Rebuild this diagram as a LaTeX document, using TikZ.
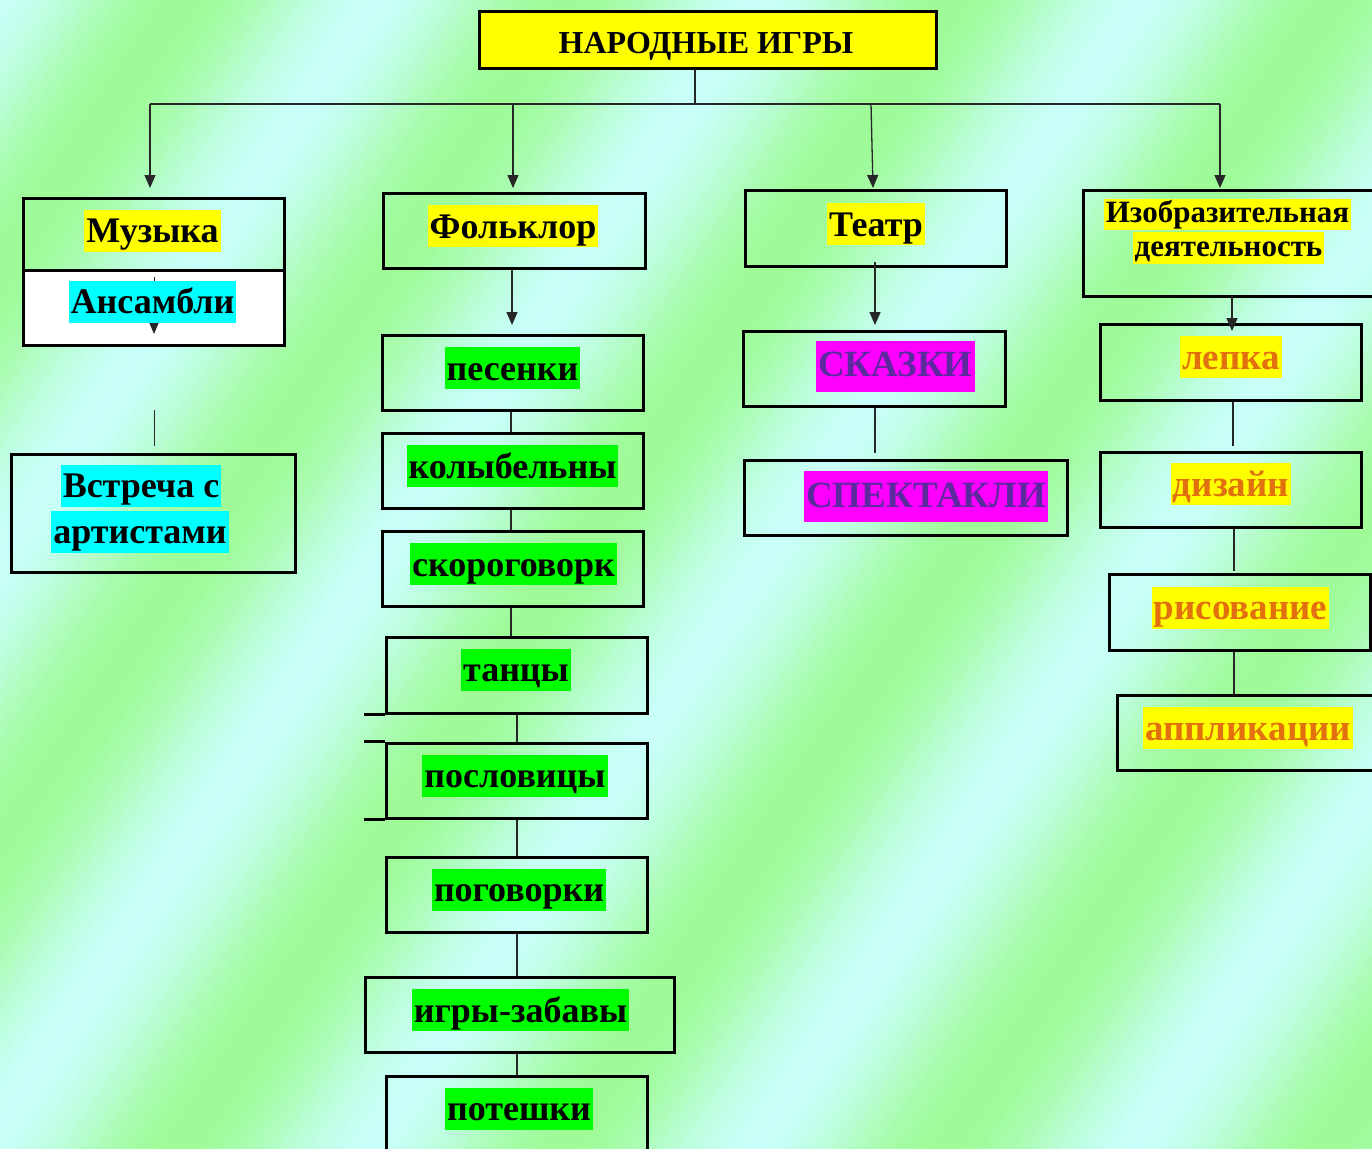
\documentclass[tikz,border=0pt]{standalone}
\usepackage{fontspec}
\setmainfont{Liberation Serif}
\usetikzlibrary{arrows.meta,calc}
\definecolor{bggreen}{RGB}{158,251,150}
\definecolor{bgcyan}{RGB}{200,255,248}
\definecolor{hlyellow}{RGB}{255,255,0}
\definecolor{hlgreen}{RGB}{0,255,0}
\definecolor{hlcyan}{RGB}{0,255,255}
\definecolor{hlmagenta}{RGB}{255,0,255}
\definecolor{txtpurple}{RGB}{92,42,158}
\definecolor{txtorange}{RGB}{226,112,14}
\begin{document}
\begin{tikzpicture}[x=1pt,y=-1pt,
  bx/.style={draw=black,line width=3pt,rectangle,inner sep=0pt},
  conn/.style={draw=black!85,line width=1.3pt},
  arr/.style={conn,-{Triangle[width=11pt,length=13pt]}},
  lbl/.style={inner xsep=2pt,inner ysep=0pt,text height=33pt,text depth=9pt,
    font=\fontsize{36}{40}\selectfont\bfseries},
  ylw/.style={lbl,fill=hlyellow},
  grn/.style={lbl,fill=hlgreen},
  cyn/.style={lbl,fill=hlcyan},
  mag/.style={lbl,fill=hlmagenta,text=txtpurple,text height=36pt,text depth=15pt,
    font=\fontsize{37}{40}\selectfont\bfseries},
  org/.style={lbl,fill=hlyellow,text=txtorange,font=\fontsize{37}{40}\selectfont\bfseries},
  small/.style={inner xsep=2pt,inner ysep=0pt,text height=24pt,text depth=7.5pt,
    fill=hlyellow,font=\fontsize{31}{34}\selectfont\bfseries}
]
\useasboundingbox (0,0) rectangle (1372,1148);
% background stripes
\begin{scope}
\clip (0,0) rectangle (1372,1148);
\begin{scope}[rotate=-33.9]
\foreach \i in {0,...,205} {
  \pgfmathsetmacro\sa{\i*9-20}
  \pgfmathsetmacro\sb{\sa+10}
  \pgfmathtruncatemacro\mx{50+50*cos(360*((\sa+4.5)/318-0.48))}
  \fill[bggreen!\mx!bgcyan] (\sa,-1600) rectangle (\sb,1600);
}
\end{scope}
\end{scope}

% boxes
\node[bx,fill=hlyellow,minimum width=457pt,minimum height=56pt] (title) at (707.5,40) {};
\node[anchor=base,inner sep=0pt,font=\fontsize{32}{36}\selectfont\bfseries] (titletxt) at (706,53) {НАРОДНЫЕ ИГРЫ};

\node[bx,minimum width=261pt,minimum height=72pt] (muz) at (153.5,234) {};
\node[bx,fill=white,minimum width=261pt,minimum height=75pt] (ans) at (153.5,307.5) {};
\node[bx,minimum width=284pt,minimum height=118pt] (vstr) at (153,513) {};

\node[bx,minimum width=262pt,minimum height=75pt] (folk) at (514,230.5) {};
\node[bx,minimum width=261pt,minimum height=75pt] (pes) at (512.5,372.5) {};
\node[bx,minimum width=261pt,minimum height=75pt] (kol) at (512.5,470.5) {};
\node[bx,minimum width=261pt,minimum height=75pt] (skor) at (512.5,568.5) {};
\node[bx,minimum width=261pt,minimum height=76pt] (tan) at (516.5,675) {};
\node[bx,minimum width=261pt,minimum height=75pt] (posl) at (516.5,780.5) {};
\node[bx,minimum width=261pt,minimum height=75pt] (pog) at (516.5,894.5) {};
\node[bx,minimum width=309pt,minimum height=75pt] (igr) at (519.5,1014.5) {};
\node[bx,minimum width=261pt,minimum height=75pt] (pot) at (516.5,1113.5) {};

\node[bx,minimum width=261pt,minimum height=76pt] (teatr) at (875.5,228) {};
\node[bx,minimum width=262pt,minimum height=75pt] (skaz) at (874,368.5) {};
\node[bx,minimum width=323pt,minimum height=75pt] (spek) at (905.5,497.5) {};

\node[bx,minimum width=312pt,minimum height=106pt] (izo) at (1239,243) {};
\node[bx,minimum width=261pt,minimum height=76pt] (lep) at (1230.5,362) {};
\node[bx,minimum width=261pt,minimum height=75pt] (diz) at (1230.5,489.5) {};
\node[bx,minimum width=261pt,minimum height=76pt] (ris) at (1239.5,612) {};
\node[bx,minimum width=273pt,minimum height=75pt] (app) at (1253.5,732.5) {};

% extension strokes beside танцы / пословицы
\draw[line width=3pt] (tan.south west) -- ++(-21,0);
\draw[line width=3pt] (posl.north west) -- ++(-21,0);
\draw[line width=3pt] (posl.south west) -- ++(-21,0);

% top tree
\coordinate (hub) at (695,104);
\coordinate (b1) at (150,104);
\coordinate (b2) at (513,104);
\coordinate (b3) at (871,104);
\coordinate (b4) at (1220,104);
\coordinate (e1) at (150,188);
\coordinate (e2) at (513,188);
\coordinate (e3) at (873,188);
\coordinate (e4) at (1220,188);
\draw[conn] (title.south -| hub) -- (hub);
\draw[conn] (b1) -- (b4);
\draw[arr] (b1) -- (e1);
\draw[arr] (b2) -- (e2);
\draw[arr] (b3) -- (e3);
\draw[arr] (b4) -- (e4);

% Музыка column
\coordinate (m1) at (154,277);
\coordinate (m2) at (154,334);
\draw[arr,line width=1pt,-{Triangle[width=9pt,length=11pt]}] (m1) -- (m2);
\coordinate (m3) at (154,410);
\coordinate (m4) at (154,446);
\draw[conn,line width=1pt] (m3) -- (m4);

% Фольклор column
\coordinate (f1) at (512,270);
\coordinate (f2) at (512,325);
\draw[arr] (f1) -- (f2);
\draw[conn,line width=1.8pt] (511,0 |- pes.south) -- (511,0 |- kol.north);
\draw[conn,line width=1.8pt] (511,0 |- kol.south) -- (511,0 |- skor.north);
\draw[conn,line width=1.8pt] (511,0 |- skor.south) -- (511,0 |- tan.north);
\draw[conn,line width=1.8pt] (517,0 |- tan.south) -- (517,0 |- posl.north);
\draw[conn,line width=1.8pt] (517,0 |- posl.south) -- (517,0 |- pog.north);
\draw[conn,line width=1.8pt] (517,0 |- pog.south) -- (517,0 |- igr.north);
\draw[conn,line width=1.8pt] (517,0 |- igr.south) -- (517,0 |- pot.north);

% Театр column
\coordinate (t1) at (875,262);
\coordinate (t2) at (875,325);
\draw[arr] (t1) -- (t2);
\coordinate (t3) at (875,453);
\draw[conn] (875,0 |- skaz.south) -- (t3);

% Изобразительная column
\coordinate (i1) at (1232,296);
\coordinate (i2) at (1232,331);
\draw[arr] (i1) -- (i2);
\coordinate (i3) at (1233,446);
\coordinate (i4) at (1234,571);
\draw[conn] (1233,0 |- lep.south) -- (i3);
\draw[conn] (1234,0 |- diz.south) -- (i4);
\draw[conn] (1234,0 |- ris.south) -- (1234,0 |- app.north);

% labels
\node[ylw] (lmuz) at (152.5,230.5) {Музыка};
\node[cyn] (lans) at (152.5,301.5) {Ансамбли};
\node[cyn] (lvs1) at (141,485.5) {Встреча с};
\node[cyn] (lvs2) at (140,531.5) {артистами};

\node[ylw] (lfolk) at (513,226) {Фольклор};
\node[grn] (lpes) at (512.5,368) {песенки};
\node[grn] (lkol) at (512.5,466) {колыбельны};
\node[grn] (lskor) at (513.5,564) {скороговорк};
\node[grn] (ltan) at (516,669.5) {танцы};
\node[grn] (lposl) at (515,775.5) {пословицы};
\node[grn] (lpog) at (519,889.5) {поговорки};
\node[grn] (ligr) at (520.5,1010) {игры-забавы};
\node[grn] (lpot) at (519,1108.5) {потешки};

\node[ylw] (lteatr) at (876,224) {Театр};
\node[mag] (lskaz) at (895.5,366) {СКАЗКИ};
\node[mag] (lspek) at (926,496.5) {СПЕКТАКЛИ};

\node[small] (lizo1) at (1227.5,214.5) {Изобразительная};
\node[small] (lizo2) at (1228.5,248) {деятельность};
\node[org] (llep) at (1231,357) {лепка};
\node[org] (ldiz) at (1231,484) {дизайн};
\node[org] (lris) at (1240.5,607.5) {рисование};
\node[org] (lapp) at (1248,728) {аппликации};
\end{tikzpicture}
\end{document}
